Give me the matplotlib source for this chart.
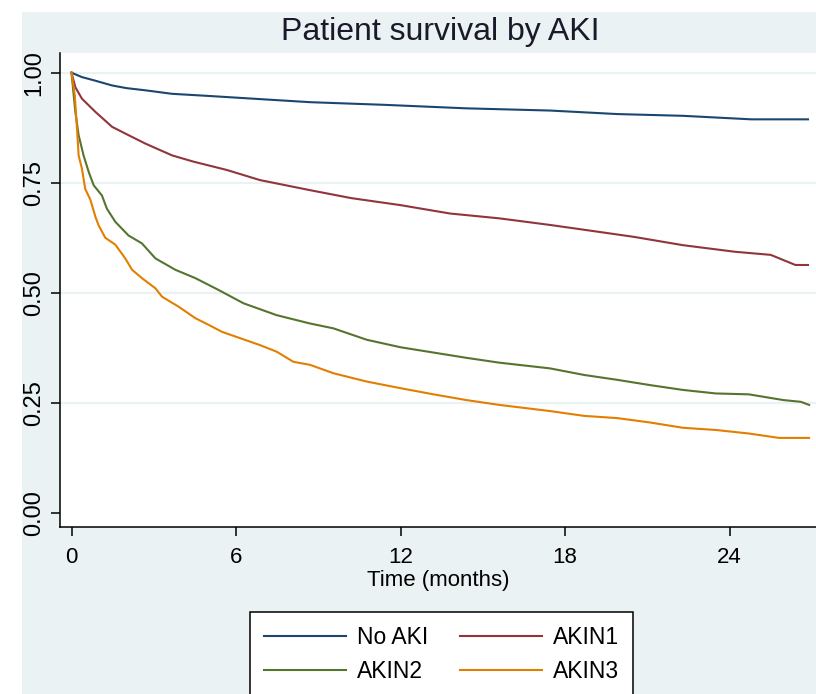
import matplotlib
matplotlib.use("Agg")
import matplotlib.pyplot as plt
from matplotlib.patches import Rectangle

# ---- data ----
t_noaki = [0, 0.38, 0.8, 1.48, 2.0, 2.69, 3.67, 5.05, 6.87, 8.7, 11.4, 14.4, 17.45, 19.9, 22.3,
           24.8, 26.86]
s_noaki = [1.0, 0.990, 0.983, 0.971, 0.965, 0.960, 0.952, 0.947, 0.940, 0.933, 0.927, 0.919, 0.914,
           0.906, 0.902, 0.894, 0.894]

t_akin1 = [0, 0.14, 0.38, 0.87, 1.48, 2.08, 2.69, 3.67, 4.44, 5.66, 6.87, 8.7, 10.2, 12.0, 13.8,
           15.6, 17.45, 18.7, 20.5, 22.3, 24.2, 25.5, 26.4, 26.86]
s_akin1 = [1.0, 0.967, 0.941, 0.911, 0.877, 0.858, 0.839, 0.812, 0.798, 0.779, 0.756, 0.733, 0.715,
           0.699, 0.680, 0.669, 0.654, 0.643, 0.627, 0.608, 0.593, 0.586, 0.563, 0.563]

t_akin2 = [0, 0.14, 0.26, 0.44, 0.63, 0.81, 1.11, 1.29, 1.60, 2.08, 2.57, 3.06, 3.79, 4.52, 5.37,
           6.27, 7.48, 8.7, 9.55, 10.77, 12.0, 13.2, 14.4, 15.6, 17.45, 18.7, 19.9, 21.1, 22.3, 23.5,
           24.7, 25.96, 26.6, 26.9]
s_akin2 = [1.0, 0.911, 0.858, 0.812, 0.774, 0.744, 0.721, 0.691, 0.661, 0.630, 0.612, 0.578, 0.552,
           0.533, 0.506, 0.476, 0.449, 0.430, 0.419, 0.393, 0.376, 0.364, 0.352, 0.341, 0.328, 0.313,
           0.302, 0.290, 0.279, 0.271, 0.269, 0.256, 0.252, 0.245]

t_akin3 = [0, 0.12, 0.2, 0.26, 0.38, 0.5, 0.69, 0.87, 0.99, 1.23, 1.6, 1.96, 2.21, 2.57, 3.06, 3.30,
           3.91, 4.52, 5.0, 5.49, 6.87, 7.48, 8.09, 8.7, 9.55, 10.77, 12.0, 13.2, 14.4, 15.6, 17.45,
           18.7, 19.9, 21.1, 22.3, 23.5, 24.7, 25.8, 26.9]
s_akin3 = [1.0, 0.949, 0.873, 0.812, 0.782, 0.736, 0.711, 0.673, 0.653, 0.625, 0.609, 0.578, 0.552,
           0.533, 0.510, 0.491, 0.468, 0.442, 0.427, 0.411, 0.381, 0.366, 0.343, 0.336, 0.317, 0.298,
           0.283, 0.269, 0.256, 0.245, 0.231, 0.220, 0.215, 0.205, 0.193, 0.188, 0.180, 0.170, 0.170]

labels = ["No AKI", "AKIN1", "AKIN2", "AKIN3"]
colors = ["#1A476F", "#90353B", "#55752F", "#E37E00"]
xticks = [0, 6, 12, 18, 24]
yticks = [0.00, 0.25, 0.50, 0.75, 1.00]
ytick_labels = ["0.00", "0.25", "0.50", "0.75", "1.00"]
title = "Patient survival by AKI"
xlabel = "Time (months)"

# ---- figure ----
W, H = 816, 694
fig = plt.figure(figsize=(W / 100, H / 100), dpi=100, facecolor="white")
BG = "#EAF2F3"
bg = Rectangle((22 / W, 0), 1 - 22 / W, 1 - 12 / H, transform=fig.transFigure,
               facecolor=BG, edgecolor="none", zorder=-10)
fig.patches.append(bg)

font = ["Liberation Sans", "DejaVu Sans"]
plt.rcParams["font.family"] = font

ax = fig.add_axes([60 / W, 1 - 527 / H, 1 - 60 / W, (527 - 53) / H])
ax.set_facecolor("white")
ax.set_zorder(1)

series = [(t_noaki, s_noaki), (t_akin1, s_akin1), (t_akin2, s_akin2), (t_akin3, s_akin3)]
handles = []
for (t, s), c, lab in zip(series, colors, labels):
    h, = ax.plot(t, s, color=c, lw=1.5, label=lab, zorder=3)
    handles.append(h)

# scale: x=0 at px 71.5, 27.42 px/month ; y=0 at px 512.7, 440 px/unit
ax.set_xlim((60 - 71.5) / 27.42, (816 - 71.5) / 27.42)
ax.set_ylim((512.7 - 527) / 440, (512.7 - 53) / 440)

for yv in [0.25, 0.5, 0.75, 1.0]:
    ax.axhline(yv, color=BG, lw=1.6, zorder=1)

for sp in ["top", "right"]:
    ax.spines[sp].set_visible(False)
for sp in ["left", "bottom"]:
    ax.spines[sp].set_color("black")
    ax.spines[sp].set_linewidth(1.1)

ax.set_xticks(xticks)
ax.set_xticklabels([str(v) for v in xticks], fontsize=16)
ax.set_yticks(yticks)
ax.set_yticklabels(ytick_labels, fontsize=17, rotation=90, va="center")
ax.tick_params(axis="x", length=6.5, width=1.1, pad=8, colors="black")
ax.tick_params(axis="y", length=6.5, width=1.1, pad=4, colors="black")

ax.set_xlabel(xlabel, fontsize=16, labelpad=1)

fig.text(440 / W, 1 - 32 / H, title, ha="center", va="center", fontsize=23, color="#1a1a2a")

order = [0, 2, 1, 3]  # column-wise fill -> rows: No AKI/AKIN1, AKIN2/AKIN3
leg = fig.legend([handles[i] for i in order], [labels[i] for i in order],
                 loc="upper left", bbox_to_anchor=(250 / W, 1 - 612 / H), ncol=2,
                 prop={"size": 16.5}, frameon=True, fancybox=False,
                 edgecolor="black", facecolor="white", framealpha=1, borderpad=0.6,
                 handlelength=3.6, handletextpad=0.45, columnspacing=1.4, labelspacing=0.5,
                 borderaxespad=0)
leg.get_frame().set_linewidth(1.1)
for line in leg.get_lines():
    line.set_linewidth(1.5)

fig.savefig("out.png", dpi=100, facecolor=fig.get_facecolor())
